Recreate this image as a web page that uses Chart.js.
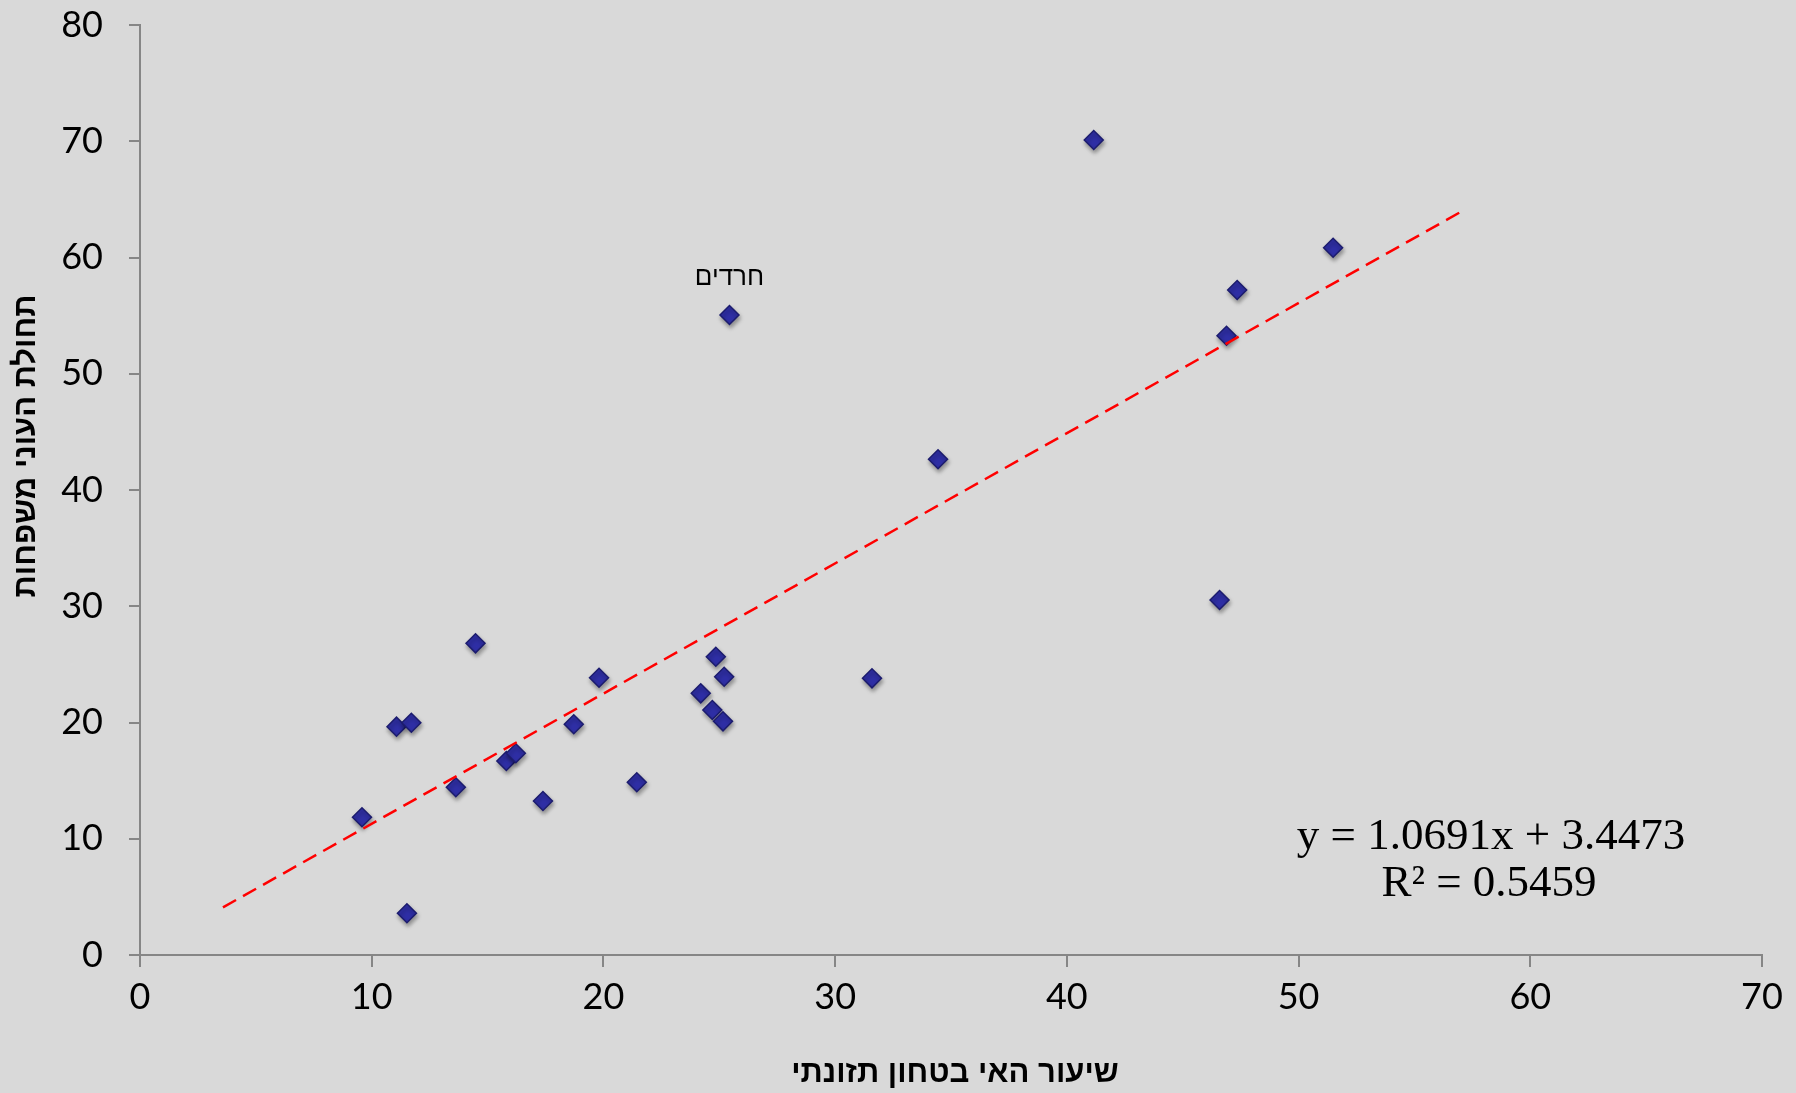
<!DOCTYPE html>
<html>
<head>
<meta charset="utf-8">
<script src="https://cdn.jsdelivr.net/npm/chart.js@4.4.1/dist/chart.umd.min.js"></script>
<style>
  html, body { margin: 0; padding: 0; background: #d9d9d9; }
  canvas { display: block; }
</style>
</head>
<body>
<canvas id="chart" width="1796" height="1093"></canvas>
<script>
// food insecurity rate (x) vs. family poverty incidence (y)
const insecurityX = [9.58, 11.52, 11.07, 11.71, 13.63, 14.48, 15.81, 16.22, 17.39, 18.72,
                     19.81, 21.44, 24.20, 24.70, 24.85, 25.16, 25.21, 25.44, 31.59, 34.44,
                     41.16, 46.59, 46.89, 47.35, 51.49];
const povertyY = [11.85, 3.59, 19.64, 19.98, 14.43, 26.81, 16.69, 17.35, 13.25, 19.85,
                  23.85, 14.86, 22.51, 21.08, 25.66, 20.10, 23.94, 55.05, 23.80, 42.64,
                  70.11, 30.54, 53.27, 57.20, 60.84];

// trend line as drawn on the picture (start / end)
const trendX = [3.58, 57.22];
const trendY = [4.10, 64.17];

const xTicks = [0, 10, 20, 30, 40, 50, 60, 70];
const yTicks = [0, 10, 20, 30, 40, 50, 60, 70, 80];

const labelIndex = 17;
const labelText = 'חרדים';
const xTitle = 'שיעור האי בטחון תזונתי';
const yTitle = 'תחולת העוני משפחות';
const equationLines = ['y = 1.0691x + 3.4473', 'R² = 0.5459'];

const axisColor = '#868686';

const scatterPoints = insecurityX.map((x, i) => ({ x: x, y: povertyY[i] }));
const trendPoints = trendX.map((x, i) => ({ x: x, y: trendY[i] }));

// soft drop shadow under the diamonds
const markerShadow = {
    id: 'markerShadow',
    beforeDatasetDraw(chart, args) {
        if (args.index !== 0) return;
        const ctx = chart.ctx;
        ctx.save();
        ctx.shadowColor = 'rgba(0, 0, 0, 0.35)';
        ctx.shadowBlur = 4;
        ctx.shadowOffsetX = 1;
        ctx.shadowOffsetY = 3;
    },
    afterDatasetDraw(chart, args) {
        if (args.index !== 0) return;
        chart.ctx.restore();
    }
};

// axis titles, point label and equation text
const chartText = {
    id: 'chartText',
    afterDraw(chart) {
        const ctx = chart.ctx;
        const xs = chart.scales.x;
        const ys = chart.scales.y;
        ctx.save();
        ctx.fillStyle = '#000';
        ctx.textAlign = 'center';
        ctx.textBaseline = 'middle';

        // label over the outlier
        ctx.font = '26px "Liberation Sans"';
        ctx.direction = 'rtl';
        ctx.fillText(labelText, xs.getPixelForValue(insecurityX[labelIndex]),
                     ys.getPixelForValue(povertyY[labelIndex]) - 37);

        // x title
        ctx.font = 'bold 31px "Liberation Sans"';
        ctx.fillText(xTitle, (chart.chartArea.left + chart.chartArea.right) / 2 + 4, 1073);

        // y title
        ctx.save();
        ctx.translate(26, 446);
        ctx.rotate(-Math.PI / 2);
        ctx.fillText(yTitle, 0, 0);
        ctx.restore();

        // regression equation
        ctx.direction = 'ltr';
        ctx.font = '45px "Liberation Serif"';
        ctx.fillText(equationLines[0], 1491, 837);
        ctx.fillText(equationLines[1], 1489, 884);
        ctx.restore();
    }
};

new Chart(document.getElementById('chart'), {
    type: 'scatter',
    data: {
        datasets: [{
            data: scatterPoints,
            pointStyle: 'rectRot',
            pointRadius: 9.5,
            backgroundColor: '#2f2fa6',
            borderColor: '#1c1c6e',
            borderWidth: 1.5,
            order: 1
        }, {
            type: 'line',
            data: trendPoints,
            borderColor: '#ff0000',
            borderWidth: 2.5,
            borderDash: [15, 8],
            pointRadius: 0,
            fill: false,
            order: 0
        }]
    },
    options: {
        responsive: false,
        animation: false,
        devicePixelRatio: 1,
        layout: { autoPadding: false, padding: { left: 0, right: 34, top: 25, bottom: 0 } },
        plugins: {
            legend: { display: false },
            tooltip: { enabled: false }
        },
        scales: {
            x: {
                type: 'linear',
                min: 0,
                max: 70,
                afterBuildTicks: (axis) => { axis.ticks = xTicks.map(v => ({ value: v })); },
                afterFit: (axis) => { axis.height = 138; axis.paddingLeft = 0; axis.paddingRight = 0; },
                grid: { drawOnChartArea: false, drawTicks: true, tickLength: 12, color: axisColor, lineWidth: 2 },
                border: { color: axisColor, width: 2 },
                ticks: { color: '#000', font: { family: 'Lato', size: 36 }, padding: 9, maxRotation: 0 }
            },
            y: {
                type: 'linear',
                min: 0,
                max: 80,
                afterBuildTicks: (axis) => { axis.ticks = yTicks.map(v => ({ value: v })); },
                afterFit: (axis) => { axis.width = 140; axis.paddingTop = 0; axis.paddingBottom = 0; },
                grid: { drawOnChartArea: false, drawTicks: true, tickLength: 11, color: axisColor, lineWidth: 2 },
                border: { color: axisColor, width: 2 },
                ticks: { color: '#000', font: { family: 'Lato', size: 36 }, padding: 26 }
            }
        }
    },
    plugins: [markerShadow, chartText]
});
</script>
</body>
</html>
